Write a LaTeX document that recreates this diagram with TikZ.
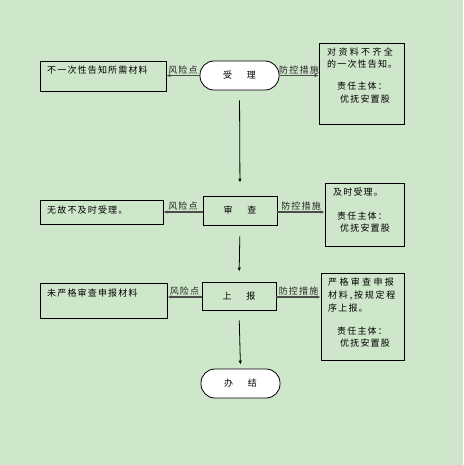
\documentclass[tikz,border=0pt]{standalone}
\usepackage{fontspec}
\newfontfamily\cjk[LetterSpace=13]{Noto Sans CJK SC}
\usetikzlibrary{arrows.meta}
\definecolor{bg}{RGB}{206,230,202}
\begin{document}
\begin{tikzpicture}[x=1pt,y=-1pt,
  font=\cjk\fontsize{9}{11}\selectfont,
  box/.style={draw, line width=0.8pt, inner sep=0pt},
  stadium/.style={box, fill=white, rounded corners=14pt},
  harr/.style={-{Latex[length=4pt,width=3.5pt]}, line width=1.2pt, draw=black!70},
  varr/.style={-{Latex[length=4pt,width=3.5pt]}, line width=0.8pt},
  lab/.style={above, inner sep=0.8pt, text=black!85},
  txt/.style={anchor=west, inner sep=0pt},
  wide/.style={font=\cjk\fontsize{9}{11}\selectfont\addfontfeature{LetterSpace=26}}]
\fill[bg] (0,0) rectangle (463,465);
\useasboundingbox (0,0) rectangle (463,465);
% center flow
\node[stadium, minimum width=79pt, minimum height=29pt] (n1) at (239.5,75.5) {受\hspace{15pt}理};
\node[box, minimum width=74pt, minimum height=29pt] (n2) at (240,210.5) {审\hspace{15pt}查};
\node[box, minimum width=74pt, minimum height=28pt] (n3) at (239,296) {上\hspace{15pt}报};
\node[stadium, minimum width=79pt, minimum height=29pt] (n4) at (240.5,383.5) {办\hspace{15pt}结};
% left boxes
\node[box, minimum width=126pt, minimum height=30pt] (l1) at (103,76) {};
\node[box, minimum width=123pt, minimum height=24pt] (l2) at (101.5,212) {};
\node[box, minimum width=127pt, minimum height=35pt] (l3) at (103.5,300.5) {};
\node[txt] (t1) at (47,70) {不一次性告知所需材料};
\node[txt] (t2) at (47,210.5) {无故不及时受理。};
\node[txt] (t3) at (47,293) {未严格审查申报材料};
% right boxes
\node[box, minimum width=85pt, minimum height=81pt] (r1) at (361.5,83.5) {};
\node[box, minimum width=79pt, minimum height=63pt] (r2) at (364.5,214.5) {};
\node[box, minimum width=83pt, minimum height=87pt] (r3) at (362.5,316.5) {};
\node[txt, wide] (a1) at (327,52.5) {对资料不齐全};
\node[txt] (a2) at (327,64) {的一次性告知。};
\node[txt] (a3) at (337,86) {责任主体：};
\node[txt] (a4) at (340,99) {优抚安置股};
\node[txt] (b1) at (333,192.5) {及时受理。};
\node[txt] (b2) at (337,216) {责任主体：};
\node[txt] (b3) at (340,228.5) {优抚安置股};
\node[txt, wide] (c1) at (328,282.5) {严格审查申报};
\node[txt, font=\cjk\fontsize{9}{11}\selectfont\addfontfeature{LetterSpace=20}] (c2) at (328,295.5) {材料,按规定程};
\node[txt] (c3) at (328,308) {序上报。};
\node[txt] (c4) at (337,331) {责任主体：};
\node[txt] (c5) at (340,343.5) {优抚安置股};
% horizontal arrows
\draw[harr] (n1.west) -- node[lab]{风险点} (n1.west -| l1.east);
\draw[harr] (n1.east) -- node[lab]{防控措施} (n1.east -| r1.west);
\draw[harr] ([yshift=-1.5pt]n2.west) -- node[lab]{风险点} ([yshift=-1.5pt]n2.west -| l2.east);
\draw[harr] ([yshift=-1.5pt]n2.east) -- node[lab]{防控措施} ([yshift=-1.5pt]n2.east -| r2.west);
\draw[harr] ([yshift=-1pt]n3.west) -- node[lab]{风险点} ([yshift=-1pt]n3.west -| l3.east);
\draw[harr] ([yshift=-1pt]n3.east) -- node[lab]{防控措施} ([yshift=-1pt]n3.east -| r3.west);
% vertical arrows
\draw[varr, shorten <=10pt, shorten >=13pt] (n1.south) -- (n2.north);
\draw[varr, shorten <=11pt, shorten >=10pt] (n2.south) -- (n3.north);
\draw[varr, shorten <=10pt, shorten >=4pt] (n3.south) -- (n4.north);
\end{tikzpicture}
\end{document}
